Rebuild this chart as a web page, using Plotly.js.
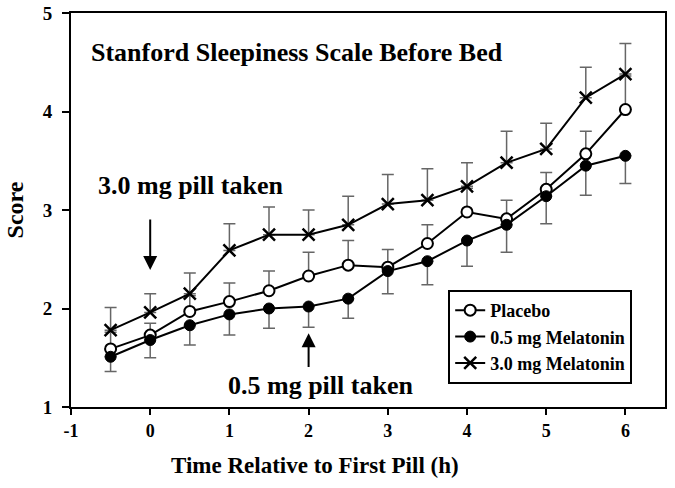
<!DOCTYPE html>
<html>
<head>
<meta charset="utf-8">
<script src="https://cdn.plot.ly/plotly-3.0.1.min.js"></script>
<style>html,body{margin:0;padding:0;background:#fff;}#chart{width:675px;height:488px;}</style>
</head>
<body>
<div id="chart"></div>
<script>
const hours = [-0.5, 0, 0.5, 1, 1.5, 2, 2.5, 3, 3.5, 4, 4.5, 5, 5.5, 6];
const placebo = [1.59, 1.73, 1.97, 2.07, 2.18, 2.33, 2.44, 2.42, 2.66, 2.98, 2.91, 3.21, 3.57, 4.02];
const placeboErrUp = [0.17, 0.12, 0.16, 0.19, 0.20, 0.24, 0.25, 0.18, 0.19, 0.24, 0.19, 0.17, 0.23, 0.34];
const mel05 = [1.51, 1.68, 1.83, 1.94, 2.00, 2.02, 2.10, 2.38, 2.48, 2.69, 2.85, 3.14, 3.45, 3.55];
const mel05ErrDown = [0.15, 0.18, 0.20, 0.21, 0.20, 0.21, 0.20, 0.23, 0.24, 0.26, 0.28, 0.28, 0.30, 0.28];
const mel30 = [1.78, 1.96, 2.15, 2.59, 2.75, 2.75, 2.85, 3.06, 3.10, 3.24, 3.48, 3.62, 4.14, 4.38];
const mel30ErrUp = [0.23, 0.19, 0.21, 0.27, 0.28, 0.25, 0.29, 0.30, 0.32, 0.24, 0.32, 0.26, 0.31, 0.31];
const seriesNames = ["Placebo", "0.5 mg Melatonin", "3.0 mg Melatonin"];
const xTicks = [-1, 0, 1, 2, 3, 4, 5, 6];
const yTicks = [1, 2, 3, 4, 5];
const zeros = hours.map(() => 0);

const FONT = "Liberation Serif, Times New Roman, serif";
const errStyle = {color: "#666", thickness: 1.5, width: 6};

const traces = [
  {
    x: hours, y: placebo, name: seriesNames[0], type: "scatter", mode: "lines+markers",
    line: {color: "#000", width: 2},
    marker: {symbol: "circle", size: 11, color: "#fff", line: {color: "#000", width: 2}},
    error_y: Object.assign({type: "data", symmetric: false, array: placeboErrUp, arrayminus: zeros}, errStyle)
  },
  {
    x: hours, y: mel05, name: seriesNames[1], type: "scatter", mode: "lines+markers",
    line: {color: "#000", width: 2},
    marker: {symbol: "circle", size: 11, color: "#000", line: {color: "#000", width: 1}},
    error_y: Object.assign({type: "data", symmetric: false, array: zeros, arrayminus: mel05ErrDown}, errStyle)
  },
  {
    x: hours, y: mel30, name: seriesNames[2], type: "scatter", mode: "lines+markers",
    line: {color: "#000", width: 2},
    marker: {symbol: "x-thin", size: 12, color: "#000", line: {color: "#000", width: 2.5}},
    error_y: Object.assign({type: "data", symmetric: false, array: mel30ErrUp, arrayminus: zeros}, errStyle)
  }
];

const layout = {
  width: 675, height: 488,
  margin: {l: 71, r: 10, t: 13, b: 81},
  paper_bgcolor: "#fff", plot_bgcolor: "#fff",
  font: {family: FONT, color: "#000", size: 18, weight: "bold"},
  showlegend: true,
  legend: {
    x: 0.635, y: 0.297, xanchor: "left", yanchor: "top",
    bgcolor: "#fff", bordercolor: "#000", borderwidth: 2,
    font: {family: FONT, size: 18, color: "#000", weight: "bold"},
    entrywidth: 165, entrywidthmode: "pixels",
    tracegroupgap: 0
  },
  xaxis: {
    range: [-1, 6.5], tickvals: xTicks, ticktext: xTicks.map(String),
    showgrid: false, zeroline: false,
    showline: true, linecolor: "#000", linewidth: 2, mirror: true,
    ticks: "outside", ticklen: 6, tickwidth: 2, tickcolor: "#000",
    tickfont: {family: FONT, size: 18, color: "#000", weight: "bold"}
  },
  yaxis: {
    range: [1, 5], tickvals: yTicks, ticktext: yTicks.map(String),
    showgrid: false, zeroline: false,
    showline: true, linecolor: "#000", linewidth: 2, mirror: true,
    ticks: "outside", ticklen: 7, tickwidth: 2, tickcolor: "#000",
    ticklabelstandoff: 6,
    tickfont: {family: FONT, size: 19, color: "#000", weight: "bold"},
    title: {text: "Score", standoff: 12, font: {family: FONT, size: 24, color: "#000", weight: "bold"}}
  },
  annotations: [
    {text: "Stanford Sleepiness Scale Before Bed", x: 1.856, y: 4.6, xref: "x", yref: "y",
     showarrow: false, font: {family: FONT, size: 26, color: "#000", weight: "bold"}},
    {text: "3.0 mg pill taken", x: 0.507, y: 3.25, xref: "x", yref: "y",
     showarrow: false, font: {family: FONT, size: 26, color: "#000", weight: "bold"}},
    {text: "0.5 mg pill taken", x: 2.146, y: 1.22, xref: "x", yref: "y",
     showarrow: false, font: {family: FONT, size: 26, color: "#000", weight: "bold"}},
    {text: "Time Relative to First Pill (h)", x: 0.411, y: -0.185, xref: "paper", yref: "paper",
     showarrow: false, font: {family: FONT, size: 23, color: "#000", weight: "bold"}},
    {text: "", x: 0, y: 2.39, ax: 0, ay: 2.92, xref: "x", yref: "y", axref: "x", ayref: "y",
     showarrow: true, arrowhead: 2, arrowsize: 1.4, arrowwidth: 2, arrowcolor: "#000", standoff: 0},
    {text: "", x: 2, y: 1.75, ax: 2, ay: 1.39, xref: "x", yref: "y", axref: "x", ayref: "y",
     showarrow: true, arrowhead: 2, arrowsize: 1.4, arrowwidth: 2, arrowcolor: "#000", standoff: 0}
  ]
};

Plotly.newPlot("chart", traces, layout, {staticPlot: true, displayModeBar: false});
</script>
</body>
</html>
